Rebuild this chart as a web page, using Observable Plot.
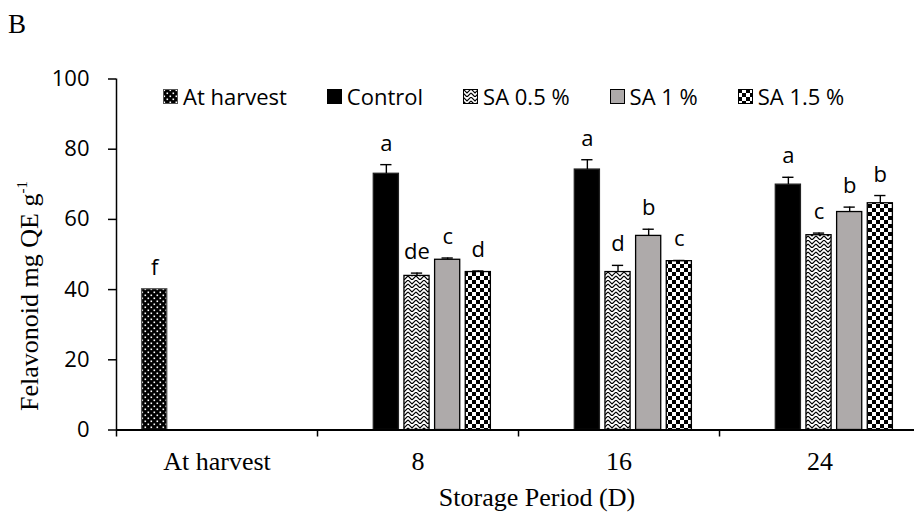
<!DOCTYPE html>
<html>
<head>
<meta charset="utf-8">
<script src="https://cdn.jsdelivr.net/npm/d3@7"></script>
<script src="https://cdn.jsdelivr.net/npm/@observablehq/plot@0.6"></script>
<style>
  body { margin: 0; background: #fff; }
  #chart { position: relative; width: 914px; height: 517px; overflow: hidden; color: #000;
           font-family: "Open Sans", sans-serif; }
  #chart > svg.plot { position: absolute; left: 0; top: 0; }
  .serif { font-family: "Liberation Serif", "Times New Roman", serif; position: absolute; white-space: nowrap; }
  #panel { left: 8px; top: 11px; font-size: 27px; line-height: 27px; }
  #ytitle { left: 30px; top: 296px; font-size: 26px; line-height: 26px;
            transform: translate(-50%, -50%) rotate(-90deg); }
  #ytitle sup { font-size: 15px; vertical-align: 11px; line-height: 0; }
  #xtitle { left: 537px; top: 485px; font-size: 26px; line-height: 26px; transform: translateX(-50%); }
  #legend { position: absolute; left: 163px; top: 85px; height: 22px; display: flex; align-items: center;
            gap: 40px; font-size: 22px; line-height: 22px; white-space: nowrap; }
  #legend .item { display: flex; align-items: center; gap: 5px; }
  #legend svg { display: block; }
</style>
</head>
<body>
<!-- fill patterns shared by the bars and the legend swatches -->
<svg width="0" height="0" style="position:absolute">
  <defs>
    <pattern id="pat-dots" width="6" height="6" patternUnits="userSpaceOnUse">
      <rect width="6" height="6" fill="#000"/>
      <rect x="0.5" y="0.5" width="1.6" height="1.6" fill="#fff"/>
      <rect x="3.5" y="3.5" width="1.6" height="1.6" fill="#fff"/>
    </pattern>
    <pattern id="pat-zigzag" width="8" height="8" patternUnits="userSpaceOnUse">
      <rect width="8" height="8" fill="#fff"/>
      <path d="M0,0L4,4L8,0M0,4L4,8L8,4" stroke="#000" stroke-width="1.2" fill="none"/>
    </pattern>
    <pattern id="pat-checker" width="8" height="8" patternUnits="userSpaceOnUse">
      <rect width="8" height="8" fill="#fff"/>
      <rect width="4" height="4" fill="#000"/>
      <rect x="4" y="4" width="4" height="4" fill="#000"/>
    </pattern>
  </defs>
</svg>

<div id="chart">
  <div id="panel" class="serif">B</div>
  <div id="ytitle" class="serif">Felavonoid mg QE g<sup>-1</sup></div>
  <div id="xtitle" class="serif">Storage Period (D)</div>
  <div id="legend"></div>
</div>

<script>
// Storage periods (x categories) and treatments (series)
const periods = ["At harvest", "8", "16", "24"];
const series = ["At harvest", "Control", "SA 0.5 %", "SA 1 %", "SA 1.5 %"];

// Flavonoid content (mg QE g-1) per period, one array per treatment
const atHarvestVals = [40.1, null, null, null];
const controlVals   = [null, 73.0, 74.2, 69.9];
const sa05Vals      = [null, 43.9, 45.0, 55.5];
const sa1Vals       = [null, 48.5, 55.3, 62.1];
const sa15Vals      = [null, 45.0, 48.1, 64.6];

// Standard errors (upper whisker)
const atHarvestErr = [0, null, null, null];
const controlErr   = [null, 2.6, 2.8, 2.1];
const sa05Err      = [null, 0.8, 1.9, 0.6];
const sa1Err       = [null, 0.5, 1.9, 1.4];
const sa15Err      = [null, 0.3, 0.2, 2.2];

// Significance letters
const atHarvestLet = ["f", null, null, null];
const controlLet   = [null, "a", "a", "a"];
const sa05Let      = [null, "de", "d", "c"];
const sa1Let       = [null, "c", "b", "b"];
const sa15Let      = [null, "d", "c", "b"];

const yTicks = [0, 20, 40, 60, 80, 100];

// Fill styles for each treatment
const fills   = ["url(#pat-dots)", "#000000", "url(#pat-zigzag)", "#aeaaaa", "url(#pat-checker)"];
const strokes = ["#555555", "#222222", "#000000", "#000000", "#000000"];

const valueSets = [atHarvestVals, controlVals, sa05Vals, sa1Vals, sa15Vals];
const errSets   = [atHarvestErr, controlErr, sa05Err, sa1Err, sa15Err];
const letSets   = [atHarvestLet, controlLet, sa05Let, sa1Let, sa15Let];

// Long table: one row per drawn bar
const rows = [];
series.forEach((s, j) => {
  periods.forEach((p, i) => {
    const v = valueSets[j][i];
    if (v == null) return;
    rows.push({series: s, j, i, period: p, value: v, err: errSets[j][i], letter: letSets[j][i]});
  });
});

// Clustered layout: each period occupies one unit on x, series take fixed slots within it
const slotStep = 0.1525, barWidth = 0.125, slotShift = -0.005, capHalf = 0.028;
const barCenter = d => d.i + (d.j - 2) * slotStep + slotShift;
const whiskerTop = d => d.value + d.err;

const xDomain = [-0.5, 3.47];
const boundaries = d3.range(xDomain[0], periods.length - 0.5, 1);

const bars = series.map((s, j) => Plot.rect(rows.filter(d => d.j === j), {
  x1: d => barCenter(d) - barWidth / 2,
  x2: d => barCenter(d) + barWidth / 2,
  y1: () => 0,
  y2: "value",
  fill: fills[j],
  stroke: strokes[j],
  strokeWidth: 1.3
}));

const withErr = rows.filter(d => d.err > 0);

const chart = Plot.plot({
  width: 914,
  height: 517,
  marginLeft: 116,
  marginRight: 0,
  marginTop: 78.5,
  marginBottom: 87.5,
  style: {background: "transparent", color: "#000", fontFamily: "Open Sans, sans-serif"},
  x: {type: "linear", domain: xDomain},
  y: {domain: [0, 100]},
  marks: [
    ...bars,
    // upper error whiskers with caps
    Plot.ruleX(withErr, {x: barCenter, y1: "value", y2: whiskerTop, stroke: "#000", strokeWidth: 1.4}),
    Plot.ruleY(withErr, {y: whiskerTop, x1: d => barCenter(d) - capHalf, x2: d => barCenter(d) + capHalf,
                         stroke: "#000", strokeWidth: 1.4}),
    // significance letters
    Plot.text(rows, {x: barCenter, y: whiskerTop, text: "letter", dy: -14, lineAnchor: "bottom",
                     fontSize: 22, fontFamily: "Open Sans, sans-serif", fill: "#000"}),
    // y axis
    Plot.ruleX([xDomain[0]], {x: d => d, y1: () => 0, y2: () => 100, stroke: "#000", strokeWidth: 1.5}),
    Plot.axisY({ticks: yTicks, tickSize: 8, tickPadding: 19, fontSize: 22, label: null,
                stroke: "#000", strokeWidth: 1.5, fill: "#000"}),
    // x axis: baseline, boundary ticks and category labels
    Plot.ruleY([0], {stroke: "#000", strokeWidth: 2}),
    Plot.axisX({ticks: boundaries, tickSize: 7, tickFormat: () => "", label: null,
                stroke: "#000", strokeWidth: 1.5}),
    Plot.axisX({ticks: d3.range(periods.length), tickSize: 0, tickPadding: 22,
                tickFormat: i => periods[i], label: null, fontSize: 26,
                fontFamily: "Liberation Serif, Times New Roman, serif", fill: "#000"})
  ]
});
chart.classList.add("plot");
document.getElementById("chart").prepend(chart);

// Legend
const legend = d3.select("#legend");
series.forEach((s, j) => {
  const item = legend.append("div").attr("class", "item");
  const sw = item.append("svg").attr("width", 15).attr("height", 15);
  sw.append("rect").attr("x", 0.5).attr("y", 0.5).attr("width", 14).attr("height", 14)
    .attr("fill", fills[j]).attr("stroke", j === 0 ? "#555" : "#000").attr("stroke-width", 1);
  item.append("span").text(s);
});
</script>
</body>
</html>
